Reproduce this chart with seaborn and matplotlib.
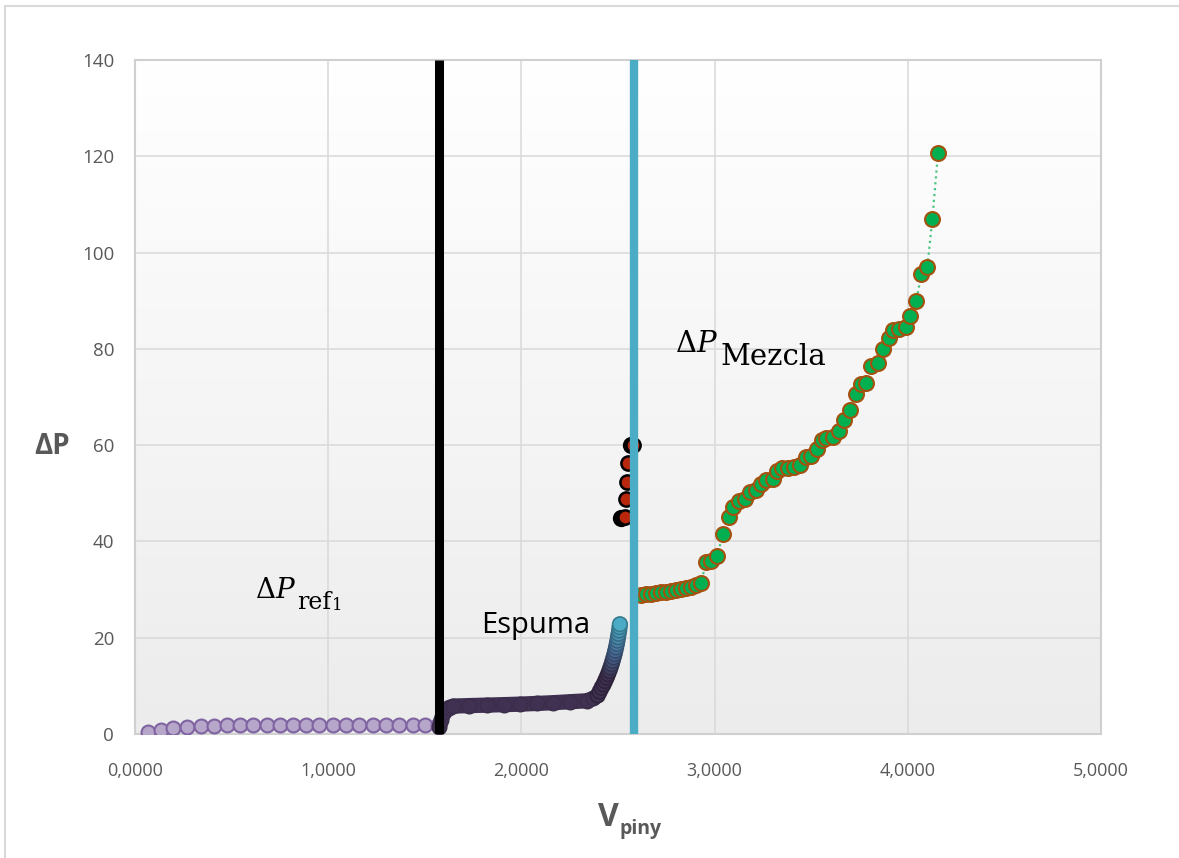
import matplotlib as mpl
from matplotlib import pyplot as plt, ticker
from matplotlib.colors import LinearSegmentedColormap
from matplotlib.lines import Line2D
import seaborn as sns
import numpy as np

# readings taken off the original chart (V_piny, ΔP)
pre_x = [0.067, 0.135, 0.197, 0.269, 0.342, 0.409, 0.476, 0.543, 0.611, 0.683, 0.750, 0.818,
         0.885, 0.952, 1.025, 1.092, 1.159, 1.232, 1.299, 1.366, 1.439, 1.501, 1.568]
pre_y = [0.5, 0.8, 1.3, 1.5, 1.7, 1.7, 1.8, 1.8, 1.8, 1.8, 1.8, 1.8,
         1.8, 1.8, 1.8, 1.8, 1.8, 1.8, 1.8, 1.8, 1.8, 1.8, 1.9]

foam_x = [1.576, 1.585, 1.600, 1.625, 1.648, 1.730, 1.820, 1.910, 1.993, 2.080, 2.165,
          2.250, 2.338, 2.372]
foam_y = [1.5, 3.0, 4.6, 5.5, 5.8, 5.9, 6.0, 6.1, 6.2, 6.35, 6.5, 6.7, 6.9, 7.4]

rise_x = [2.395, 2.405, 2.415, 2.425, 2.433, 2.441, 2.448, 2.455, 2.461, 2.467, 2.472,
          2.477, 2.482, 2.486, 2.490, 2.494, 2.497, 2.500, 2.503, 2.506, 2.508, 2.510]
rise_y = [8.0, 8.8, 9.6, 10.3, 11.0, 11.7, 12.4, 13.1, 13.8, 14.5, 15.2,
          15.9, 16.6, 17.3, 18.0, 18.7, 19.4, 20.1, 20.8, 21.5, 22.2, 22.8]

jump_black_x = [2.518, 2.565]
jump_black_y = [44.8, 60.0]
jump_red_x = [2.535, 2.540, 2.544, 2.552, 2.578]
jump_red_y = [45.1, 48.8, 52.4, 56.2, 60.0]

mix_x = [2.618, 2.644, 2.670, 2.696, 2.721, 2.747, 2.773, 2.799, 2.825, 2.851, 2.877, 2.903,
         2.928, 2.958, 2.983, 3.012, 3.044, 3.075, 3.095, 3.126, 3.156, 3.181, 3.213, 3.242,
         3.268, 3.302, 3.323, 3.350, 3.380, 3.409, 3.440, 3.471, 3.501, 3.530, 3.557, 3.578,
         3.613, 3.644, 3.668, 3.699, 3.730, 3.759, 3.785, 3.811, 3.845, 3.871, 3.902, 3.923,
         3.954, 3.989, 4.013, 4.044, 4.070, 4.101, 4.127, 4.156]
mix_y = [28.9, 29.0, 29.1, 29.2, 29.4, 29.5, 29.7, 29.9, 30.1, 30.3, 30.6, 30.9,
         31.3, 35.8, 36.0, 37.0, 41.5, 45.0, 47.2, 48.4, 48.9, 50.3, 50.7, 51.9,
         52.8, 52.9, 54.7, 55.2, 55.3, 55.5, 55.9, 57.6, 57.8, 59.2, 61.0, 61.4,
         61.6, 63.0, 65.3, 67.3, 70.6, 72.8, 73.0, 76.4, 77.1, 79.9, 82.2, 83.9,
         84.1, 84.6, 86.8, 90.0, 95.5, 97.0, 106.9, 120.6]

ref_line_x = [1.576, 1.576]
mix_line_x = [2.583, 2.583]
vline_y = [0, 140]

x_ticks = [0, 1, 2, 3, 4, 5]
y_ticks = [0, 20, 40, 60, 80, 100, 120, 140]

sns.set_style("whitegrid")
plt.rcParams['font.family'] = ['Open Sans', 'DejaVu Sans']
plt.rcParams['mathtext.fontset'] = 'dejavuserif'

GRAY = "#595959"
fig = plt.figure(figsize=(11.79, 8.58), dpi=100)
ax = fig.add_axes([135 / 1179, 1 - 734 / 858, 966 / 1179, 674 / 858])

# plot-area gradient fill
bg = LinearSegmentedColormap.from_list("bg", ["#ececec", "#ffffff"])
ax.imshow(np.linspace(0, 1, 256).reshape(-1, 1), extent=[0, 1, 0, 1], transform=ax.transAxes,
          cmap=bg, aspect="auto", origin="lower", zorder=0)

# light purple run before the reference volume
sns.scatterplot(x=pre_x, y=pre_y, ax=ax, s=100, color="#b6a6ca", edgecolor="#8064a2",
                linewidth=1.5, zorder=3)

# foam: dense dark band then the rising tail
sns.lineplot(x=foam_x, y=foam_y, ax=ax, estimator=None, sort=False, color="#403152",
             lw=11, solid_capstyle="round", zorder=3)
sns.scatterplot(x=foam_x, y=foam_y, ax=ax, s=110, color="#403152", edgecolor="#3a2d4a",
                linewidth=1.0, zorder=3)
cmap = sns.blend_palette(["#403152", "#403152", "#4a6f9c", "#4bacc6"], as_cmap=True)
sns.scatterplot(x=rise_x, y=rise_y, hue=rise_y, palette=cmap, hue_norm=(7.5, 23), ax=ax,
                s=110, linewidth=1.2, legend=False, zorder=3)
coll = ax.collections[-1]
fc = np.array(coll.get_facecolors())
ec = fc.copy()
ec[:, :3] *= 0.72
coll.set_edgecolors(ec)

# points at the jump
sns.scatterplot(x=jump_black_x, y=jump_black_y, ax=ax, s=120, color="black",
                edgecolor="black", linewidth=1.5, zorder=3)
sns.scatterplot(x=jump_red_x, y=jump_red_y, ax=ax, s=105, color="#b8260c",
                edgecolor="black", linewidth=1.8, zorder=3.1)

# mixture branch
sns.lineplot(x=mix_x, y=mix_y, ax=ax, estimator=None, sort=False, color="#4cc482",
             lw=1.6, linestyle=":", zorder=3)
sns.scatterplot(x=mix_x, y=mix_y, ax=ax, s=115, color="#00b050", edgecolor="#a5510f",
                linewidth=1.5, zorder=3.2)

# reference lines
ax.plot(ref_line_x, vline_y, color="black", lw=6.5, solid_capstyle="butt", zorder=4)
ax.plot(mix_line_x, vline_y, color="#4bacc6", lw=6, solid_capstyle="butt", zorder=4)

ax.set_xlim(0, 5)
ax.set_ylim(0, 140)
ax.set_xticks(x_ticks)
ax.set_yticks(y_ticks)
ax.xaxis.set_major_formatter(ticker.FuncFormatter(lambda v, p: f"{v:.4f}".replace(".", ",")))
ax.grid(True, color="#d9d9d9", lw=1.1)
ax.set_axisbelow(True)
for sp in ax.spines.values():
    sp.set_color("#d0d0d0")
    sp.set_linewidth(1.5)
ax.tick_params(axis="both", length=0, colors=GRAY)
ax.tick_params(axis="y", labelsize=13.5, pad=15)
ax.tick_params(axis="x", labelsize=13, pad=20)

# axis titles
ax.set_ylabel("ΔP", rotation=0, fontsize=20, fontweight="bold", color=GRAY,
              ha="center", va="center")
ax.yaxis.set_label_coords(-0.086, 0.426)
v = ax.text(0.49, -0.10, "V", transform=ax.transAxes, fontsize=23, fontweight="bold",
            color=GRAY, va="top", ha="center")
ax.annotate("piny", xy=(1, 0), xycoords=v, xytext=(0.5, 0), textcoords="offset points",
            fontsize=14, fontweight="bold", color=GRAY, va="baseline", ha="left")

# annotations
serif = ["DejaVu Serif"]
t1 = ax.text(0.621, 28.2, r"$\Delta P$", fontsize=20, color="black", va="baseline", zorder=6)
t1r = ax.annotate("ref", xy=(1, 0), xycoords=t1, xytext=(1, -3), textcoords="offset points",
                  fontsize=17, family=serif, color="black", va="baseline", ha="left", zorder=6)
ax.annotate("1", xy=(1, 0), xycoords=t1r, xytext=(0.5, 0), textcoords="offset points",
            fontsize=12, family=serif, color="black", va="bottom", ha="left", zorder=6)
t2 = ax.text(2.795, 79.3, r"$\Delta P$", fontsize=21, color="black", va="baseline", zorder=6)
ax.annotate("Mezcla", xy=(1, 0), xycoords=t2, xytext=(2, -4), textcoords="offset points",
            fontsize=21, family=serif, color="black", va="baseline", ha="left", zorder=6)
ax.text(1.79, 21.0, "Espuma", fontsize=21, color="black", va="baseline", zorder=6)

# outer chart border (Excel chart area)
fig.add_artist(Line2D([5 / 1179, 5 / 1179], [0, 1 - 6 / 858], transform=fig.transFigure,
                      color="#d9d9d9", lw=1.5))
fig.add_artist(Line2D([5 / 1179, 1], [1 - 6 / 858, 1 - 6 / 858], transform=fig.transFigure,
                      color="#d9d9d9", lw=1.5))

plt.savefig("out.png", dpi=100)
